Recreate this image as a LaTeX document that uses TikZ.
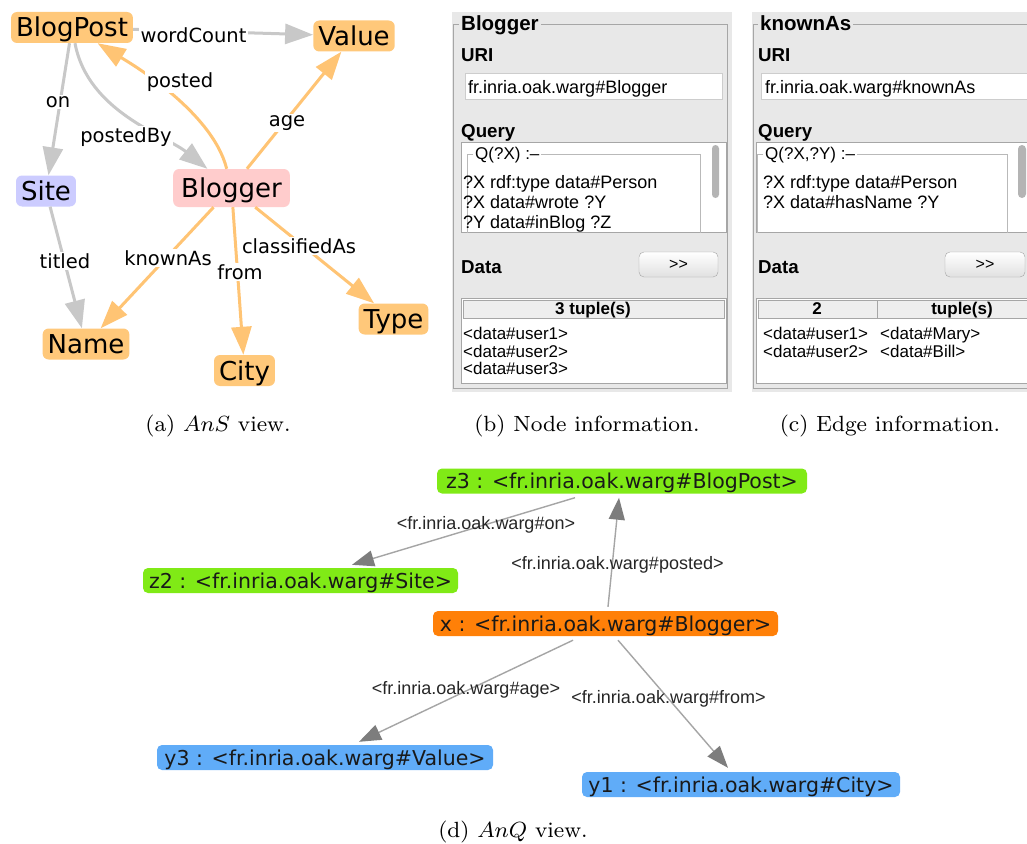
\documentclass[tikz,border=0pt]{standalone}
\usepackage{graphicx}
\usepackage{fontspec}
\newfontfamily\lucidalike{DejaVu Sans}
\newfontfamily\guisans{Liberation Sans}
\usetikzlibrary{arrows.meta,calc}

\definecolor{nodeorange}{RGB}{255,200,122}
\definecolor{edgeorange}{RGB}{255,196,116}
\definecolor{edgegray}{RGB}{200,200,200}
\definecolor{sitefill}{RGB}{204,204,255}
\definecolor{bloggerfill}{RGB}{255,204,204}
\definecolor{qgreen}{RGB}{128,234,22}
\definecolor{qorange}{RGB}{255,128,8}
\definecolor{qblue}{RGB}{96,172,248}
\definecolor{qedge}{RGB}{165,165,165}
\definecolor{qtip}{RGB}{125,125,125}
\definecolor{panelbg}{RGB}{232,232,232}
\definecolor{panelline}{RGB}{166,166,166}
\definecolor{fieldline}{RGB}{205,205,205}
\definecolor{innerline}{RGB}{185,185,185}
\definecolor{thumb}{RGB}{180,180,180}
\definecolor{headbg}{RGB}{238,238,238}

% caption text: small design size, enlarged
\newcommand{\captext}[1]{\scalebox{2.75}{\fontsize{8}{9.6}\selectfont #1}}

\begin{document}
\begin{tikzpicture}[x=1pt,y=-1pt,
  snode/.style={rounded corners=6pt, inner xsep=5pt, inner ysep=6pt,
    text height=19pt, text depth=0pt,
    font=\lucidalike\fontsize{26}{30}\selectfont},
  gedge/.style={draw=edgegray, line width=3pt, -{Triangle[length=28pt,width=20pt]}},
  oedge/.style={draw=edgeorange, line width=3pt, -{Triangle[length=28pt,width=20pt]}},
  alab/.style={fill=white, inner sep=1.5pt, font=\lucidalike\fontsize{19.5}{23}\selectfont},
  qnode/.style={rounded corners=5pt, inner xsep=6pt, inner ysep=5pt,
    text height=15pt, text depth=0pt, text=black!90,
    font=\lucidalike\fontsize{20.5}{24}\selectfont},
  qarrow/.style={draw=qedge, line width=1.4pt, -{Triangle[length=22pt,width=16pt,color=qtip]}},
  qlab/.style={inner sep=0pt, text=black!85, font=\guisans\fontsize{18}{21}\selectfont},
  guititle/.style={anchor=base west, fill=panelbg, inner xsep=2pt, inner ysep=0pt,
    font=\guisans\bfseries\fontsize{20.5}{24}\selectfont},
  guihead/.style={anchor=base west, inner sep=0pt,
    font=\guisans\bfseries\fontsize{18.7}{22}\selectfont},
  guitext/.style={anchor=base west, inner sep=0pt, font=\guisans\fontsize{18}{21}\selectfont},
  guirow/.style={anchor=base west, inner sep=0pt, font=\guisans\fontsize{17}{20}\selectfont},
  guibold/.style={anchor=base, inner sep=0pt, font=\guisans\bfseries\fontsize{17}{20}\selectfont},
  boxtitle/.style={anchor=base west, fill=white, inner xsep=2pt, inner ysep=0pt,
    font=\guisans\fontsize{17}{20}\selectfont},
  button/.style={draw=panelline, rounded corners=5pt, top color=white, bottom color=black!12},
  capt/.style={anchor=base, inner sep=0pt}
]
\useasboundingbox (0,0) rectangle (1027,843);
\fill[white] (0,0) rectangle (1027,843);

% ---------- (a) schema graph ----------
\node[snode, fill=nodeorange] (BlogPost) at (72,27.5) {BlogPost};
\node[snode, fill=nodeorange] (Value) at (354,36) {Value};
\node[snode, fill=sitefill] (Site) at (46,191) {Site};
\node[snode, fill=bloggerfill, inner xsep=8pt, inner ysep=9.5pt] (Blogger) at (231.5,188) {Blogger};
\node[snode, fill=nodeorange] (Name) at (86,344) {Name};
\node[snode, fill=nodeorange] (City) at (244.5,370.5) {City};
\node[snode, fill=nodeorange] (Type) at (393.5,319) {Type};

\draw[gedge] (BlogPost) -- (Value);
\draw[gedge] (BlogPost) -- (Site);
\draw[gedge] (BlogPost) .. controls (88,112) and (165,135) .. (Blogger);
\draw[oedge] (Blogger) .. controls (212,110) and (125,60) .. (BlogPost);
\draw[oedge] (Blogger) -- (Value);
\draw[gedge] (Site) -- (Name);
\draw[oedge] (Blogger) -- (Name);
\draw[oedge] (Blogger) -- (City);
\draw[oedge] (Blogger) -- (Type);

\node[alab] (lWordCount) at (193.5,35) {wordCount};
\node[alab] (lOnA) at (58,102) {on};
\node[alab] (lPostedBy) at (126,137) {postedBy};
\node[alab] (lPostedA) at (180,82) {posted};
\node[alab] (lAgeA) at (287,123) {age};
\node[alab] (lTitled) at (65,261) {titled};
\node[alab] (lKnownAs) at (168,258) {knownAs};
\node[alab] (lFromA) at (240,272) {from};
\node[alab] (lClassified) at (299,246) {classifiedAs};

% ---------- (b) node panel ----------
\fill[panelbg] (452,12) rectangle (732,392);
\draw[panelline] (453,24) rectangle (727,388);
\node[guititle] (bTitle) at (459,31) {Blogger};
\node[guihead] (bUri) at (461,62) {URI};
\draw[fieldline, fill=white] (465,73) rectangle (722,99);
\node[guitext] (bUriVal) at (468,93) {fr.inria.oak.warg\#Blogger};
\node[guihead] (bQuery) at (461,137) {Query};
\draw[panelline, fill=white] (461,142) rectangle (726,232);
\begin{scope}
  \clip (461,142) rectangle (726,232);
  \draw[innerline] (467,240) |- (700,154) -- (700,240);
  \node[boxtitle] (bQhead) at (473,159) {Q(?X) :–};
  \node[guitext] (bQ1) at (463,188.5) {?X rdf:type data\#Person};
  \node[guitext] (bQ2) at (463,208.5) {?X data\#wrote ?Y};
  \node[guitext] (bQ3) at (463,228.5) {?Y data\#inBlog ?Z};
\end{scope}
\fill[thumb, rounded corners=3.5pt] (712,145) rectangle (719,198);
\node[guihead] (bData) at (461,273) {Data};
\draw[button] (639,252) rectangle (718,277);
\node[inner sep=0pt, font=\guisans\fontsize{16}{19}\selectfont] (bGo) at (678.5,265) {>\kern0pt>};
\draw[panelline, fill=white] (461,298) rectangle (726,383);
\draw[panelline, fill=headbg] (463,300) rectangle (724,318);
\node[guibold] (bHead) at (593,314) {3 tuple(s)};
\node[guirow] (bR1) at (463,339) {<data\#user1>};
\node[guirow] (bR2) at (463,357) {<data\#user2>};
\node[guirow] (bR3) at (463,374) {<data\#user3>};

% ---------- (c) edge panel ----------
\begin{scope}
  \clip (740,0) rectangle (1027,400);
  \fill[panelbg] (752,12) rectangle (1040,392);
  \draw[panelline] (1040,24) -- (753,24) -- (753,388) -- (1040,388);
  \node[guititle] (cTitle) at (758,31) {knownAs};
  \node[guihead] (cUri) at (758,62) {URI};
  \draw[fieldline, fill=white] (761,73) rectangle (1040,99);
  \node[guitext] (cUriVal) at (765,93) {fr.inria.oak.warg\#knownAs};
  \node[guihead] (cQuery) at (758,137) {Query};
  \draw[panelline, fill=white] (756,142) rectangle (1040,232);
  \begin{scope}
    \clip (756,142) rectangle (1040,232);
    \draw[innerline] (757,240) |- (1007,154) -- (1007,240);
    \node[boxtitle] (cQhead) at (763,159) {Q(?X,?Y) :–};
    \node[guitext] (cQ1) at (763,188.5) {?X rdf:type data\#Person};
    \node[guitext] (cQ2) at (763,208.5) {?X data\#hasName ?Y};
  \end{scope}
  \fill[thumb, rounded corners=4pt] (1018,145) rectangle (1026,198);
  \node[guihead] (cData) at (758,273) {Data};
  \draw[button] (945,252) rectangle (1025,277);
  \node[inner sep=0pt, font=\guisans\fontsize{16}{19}\selectfont] (cGo) at (985,265) {>\kern0pt>};
  \draw[panelline, fill=white] (756,298) rectangle (1040,383);
  \draw[panelline, fill=headbg] (758,300) rectangle (1040,318);
  \draw[panelline] (877,300) -- (877,318);
  \node[guibold] (cHeadA) at (817,314) {2};
  \node[guibold] (cHeadB) at (962,314) {tuple(s)};
  \node[guirow] (cR1a) at (763,339) {<data\#user1>};
  \node[guirow] (cR1b) at (880,339) {<data\#Mary>};
  \node[guirow] (cR2a) at (763,357) {<data\#user2>};
  \node[guirow] (cR2b) at (880,357) {<data\#Bill>};
\end{scope}

% ---------- (d) query graph ----------
\node[qnode, fill=qgreen, minimum width=370pt] (z3) at (622,481) {z3 : <fr.inria.oak.warg\#BlogPost>};
\node[qnode, fill=qgreen, minimum width=315pt] (z2) at (300.5,580.5) {z2 : <fr.inria.oak.warg\#Site>};
\node[qnode, fill=qorange, minimum width=345pt] (x) at (605.5,623.5) {x : <fr.inria.oak.warg\#Blogger>};
\node[qnode, fill=qblue, minimum width=336pt] (y3) at (325,757.5) {y3 : <fr.inria.oak.warg\#Value>};
\node[qnode, fill=qblue, minimum width=318pt] (y1) at (741,784.5) {y1 : <fr.inria.oak.warg\#City>};

\draw[qarrow] ($(z3.south)+(-47,4)$) -- ($(z2.north)+(51.5,-3)$);
\draw[qarrow] ($(x.north)+(2.5,-4)$) -- ($(z3.south)+(-3,4)$);
\draw[qarrow] ($(x.south)+(-32.5,4)$) -- ($(y3.north)+(34,-3)$);
\draw[qarrow] ($(x.south)+(12.5,4)$) -- ($(y1.north)+(-13,-4)$);

\node[qlab] (lOnD) at (486,525) {<fr.inria.oak.warg\#on>};
\node[qlab] (lPostedD) at (617.5,565) {<fr.inria.oak.warg\#posted>};
\node[qlab] (lAgeD) at (466,690) {<fr.inria.oak.warg\#age>};
\node[qlab] (lFromD) at (668.5,699) {<fr.inria.oak.warg\#from>};

% ---------- captions ----------
\node[capt] (capA) at (218,431) {\captext{(a) $AnS$ view.}};
\node[capt] (capB) at (587,431) {\captext{(b) Node information.}};
\node[capt] (capC) at (890,431) {\captext{(c) Edge information.}};
\node[capt] (capD) at (513,837) {\captext{(d) $AnQ$ view.}};
\end{tikzpicture}
\end{document}
